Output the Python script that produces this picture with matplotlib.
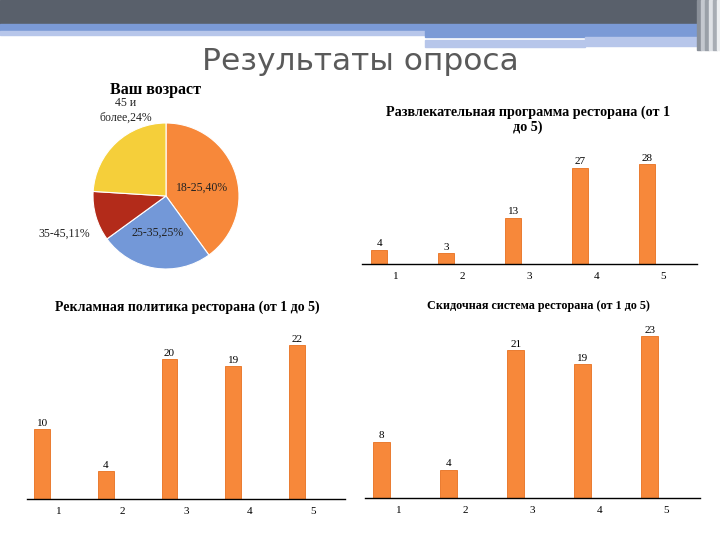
import numpy as np
import matplotlib.pyplot as plt
from matplotlib.patches import Rectangle

# data
age_labels = ["18-25,40%", "25-35,25%", "35-45,11%", "45 и\nболее,24%"]
age_values = [40, 25, 11, 24]
age_colors = ["#f7883a", "#7398d8", "#b32b1a", "#f5cf3a"]

grades = ["1", "2", "3", "4", "5"]
fun_values = [4, 3, 13, 27, 28]
ads_values = [10, 4, 20, 19, 22]
disc_values = [8, 4, 21, 19, 23]

bar_color = "#f7883a"
serif = "Liberation Serif"

fig = plt.figure(figsize=(7.2, 5.4), dpi=100)
W, H = 720.0, 540.0


def px(x0, y0, x1, y1):
    # pixel box (top-left origin) -> figure fraction rect
    return [x0 / W, 1 - y1 / H, (x1 - x0) / W, (y1 - y0) / H]


# slide header decoration
bg = fig.add_axes([0, 0, 1, 1])
bg.set_xlim(0, W)
bg.set_ylim(H, 0)
bg.axis("off")
bg.add_patch(Rectangle((0, 0), W, 24, color="#59606b"))
bg.add_patch(Rectangle((0, 24), 425, 7, color="#7b9ad6"))
bg.add_patch(Rectangle((0, 31), 425, 4, color="#b7c6ea"))
bg.add_patch(Rectangle((425, 24), 295, 13, color="#7b9ad6"))
bg.add_patch(Rectangle((425, 40), 160, 7, color="#b7c6ea"))
bg.add_patch(Rectangle((585, 37), 112, 9, color="#b7c6ea"))
for i, c in enumerate(["#8a9099", "#c4c8cf", "#9aa0a8", "#dfe2e6", "#a8adb4", "#eef0f2"]):
    bg.add_patch(Rectangle((697 + i * 4, 0), 4, 50, color=c))
fig.text(0.50, 1 - 61 / H, "Результаты опроса", ha="center", va="center",
         fontsize=22.5, color="#5a5a5a", family="DejaVu Sans")

# pie
ax = fig.add_axes(px(93, 123, 239, 269))
wedges, _ = ax.pie(age_values, colors=age_colors, startangle=90, counterclock=False,
                   wedgeprops=dict(edgecolor="white", linewidth=0.8))
ax.set_aspect("equal")
ax.set_xlim(-1, 1)
ax.set_ylim(-1, 1)
pie_pos = [(0.5, 0.12), (-0.12, -0.5), (-1.4, -0.52), (-0.55, 1.17)]
for lab, (x, y) in zip(age_labels, pie_pos):
    ax.text(x, y, lab, ha="center", va="center", fontsize=8.5, family=serif,
            color="#222222", linespacing=1.25)
fig.text(156 / W, 1 - 90 / H, "Ваш возраст", ha="center", va="center",
         fontsize=11.5, fontweight="bold", family=serif)


def bars(rect, values, ymax, offset, width, title, tpos, tsize):
    ax = fig.add_axes(rect)
    x = np.arange(len(values))
    b = ax.bar(x + offset, values, width=width, color=bar_color, edgecolor="#e8701f",
               linewidth=0.6)
    ax.bar_label(b, labels=[str(v) for v in values], padding=1, fontsize=8,
                 family=serif)
    ax.set_xlim(-0.5, len(values) - 0.5)
    ax.set_ylim(0, ymax)
    ax.set_xticks(x)
    ax.set_xticklabels(grades, family=serif, fontsize=8)
    ax.tick_params(length=0, pad=6)
    ax.set_yticks([])
    for s in ["top", "left", "right"]:
        ax.spines[s].set_visible(False)
    ax.spines["bottom"].set_linewidth(1.0)
    ax.patch.set_alpha(0)
    fig.text(tpos[0] / W, 1 - tpos[1] / H, title, ha="center", va="center",
             fontsize=tsize, fontweight="bold", family=serif, linespacing=1.15)
    return ax


bars(px(362, 157, 697, 264), fun_values, 30, -0.24, 0.24,
     "Развлекательная программа ресторана (от 1\nдо 5)", (528, 120), 10.2)
bars(px(27, 331, 345, 499), ads_values, 24, -0.26, 0.25,
     "Рекламная политика ресторана (от 1 до 5)", (187, 307), 10)
bars(px(365, 322, 700, 498), disc_values, 25, -0.25, 0.26,
     "Скидочная система ресторана (от 1 до 5)", (538, 306), 8.7)

fig.savefig("out.png", dpi=100, facecolor="white")
